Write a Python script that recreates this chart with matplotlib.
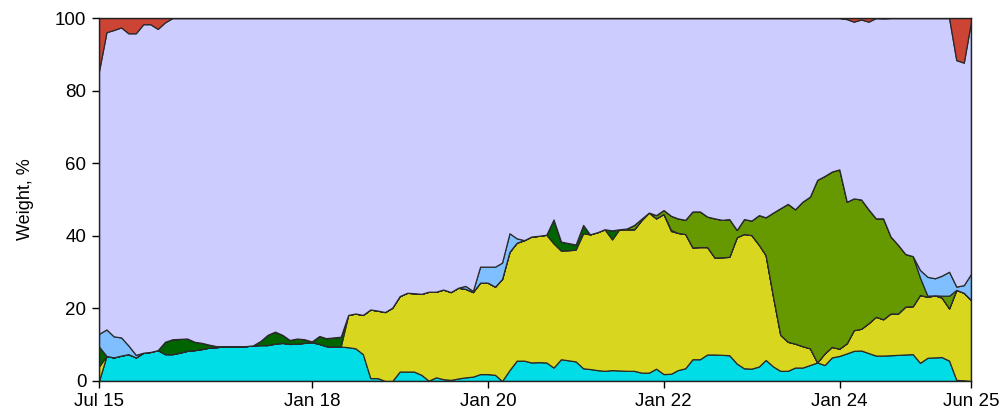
import numpy as np
import pandas as pd
import matplotlib
matplotlib.use("Agg")
import matplotlib.pyplot as plt

plt.rcParams['font.family'] = ['Liberation Sans', 'DejaVu Sans']

# month-end observations, Jul 2015 .. Jun 2025
dates = pd.date_range('2015-07-31', periods=120, freq='ME')

# portfolio weights, %, bottom to top of the stack
cyan = [0, 6.9, 6.5, 7.0, 7.4, 6.5, 7.8, 8.0, 8.5, 7.4,
        7.4, 7.8, 8.3, 8.5, 8.8, 9.2, 9.3, 9.6, 9.6, 9.6,
        9.6, 9.8, 9.9, 9.9, 10.3, 10.5, 10.2, 10.3, 10.5, 10.7,
        10.2, 9.6, 9.5, 9.5, 9.3, 9.0, 7.4, 0.8, 0.8, 0,
        0, 2.6, 2.6, 2.6, 1.7, 0.1, 1.0, 0.5, 0.3, 0.7,
        1.0, 1.2, 1.9, 1.9, 1.7, 0, 3.0, 5.6, 5.6, 5.1,
        5.2, 5.1, 3.7, 6.0, 5.7, 5.4, 3.5, 3.3, 3.0, 2.8,
        3.0, 2.9, 2.8, 2.8, 2.3, 2.3, 3.4, 1.9, 2.0, 3.0,
        3.5, 6.0, 6.0, 7.3, 7.3, 7.2, 7.1, 4.8, 3.5, 3.4,
        4.0, 5.8, 4.0, 2.8, 2.8, 3.7, 3.7, 4.4, 5.1, 4.4,
        6.5, 6.9, 7.6, 8.3, 8.4, 7.7, 7.0, 7.0, 7.1, 7.2,
        7.3, 7.4, 5.0, 6.4, 6.5, 6.6, 5.6, 0.3, 0.2, 0]

yellow = [4.0, 0, 0, 0, 0, 0, 0, 0, 0, 0,
          0, 0, 0, 0, 0, 0, 0, 0, 0, 0,
          0, 0, 0, 0, 0, 0, 0, 0, 0, 0,
          0, 0, 0, 0, 8.9, 9.6, 10.8, 18.9, 18.6, 19.0,
          20.2, 20.8, 21.7, 21.6, 22.3, 24.5, 23.6, 24.7, 24.2, 25.0,
          24.4, 23.3, 25.2, 25.2, 24.3, 28.1, 32.6, 32.5, 33.2, 34.7,
          34.8, 35.2, 34.2, 29.9, 30.3, 30.8, 37.2, 37.1, 38.0, 39.0,
          36.0, 38.9, 39.0, 39.0, 42.0, 44.1, 41.4, 44.1, 39.3, 37.8,
          37.0, 30.8, 30.9, 29.6, 26.7, 26.9, 27.1, 34.8, 37.0, 36.8,
          33.5, 28.9, 19.2, 9.9, 8.0, 6.6, 5.9, 4.6, 0, 3.2,
          2.9, 2.0, 2.8, 5.7, 6.0, 8.2, 10.7, 10.0, 11.5, 11.4,
          13.2, 13.2, 18.7, 16.8, 17.1, 16.4, 14.4, 24.8, 24.1, 22.3]

dark_green = [5.5, 0, 0, 0, 0, 0, 0, 0, 0, 3.4,
              4.1, 3.8, 3.4, 2.3, 1.7, 0.8, 0.3, 0, 0, 0,
              0, 0, 1.1, 2.8, 3.3, 2.2, 1.1, 1.4, 1.0, 0.2,
              2.2, 2.2, 2.5, 2.7, 0, 0, 0, 0, 0, 0,
              0, 0, 0, 0, 0, 0, 0, 0, 0, 0,
              0, 0, 0, 0, 0, 0, 0, 0, 0, 0,
              0, 0, 6.6, 2.5, 2.0, 1.4, 2.3, 0, 0, 0,
              2.5, 0, 0, 0, 0, 0, 0, 0, 0.3, 0,
              0, 0, 0, 0, 0, 0, 0, 0, 0, 0,
              0, 0, 0, 0, 0, 0, 0, 0, 0, 0,
              0, 0, 0, 0, 0, 0, 0, 0, 0, 0,
              0, 0, 0, 0, 0, 0, 0, 0, 0, 0]

olive = [0, 0, 0, 0, 0, 0, 0, 0, 0, 0,
         0, 0, 0, 0, 0, 0, 0, 0, 0, 0,
         0, 0, 0, 0, 0, 0, 0, 0, 0, 0,
         0, 0, 0, 0, 0, 0, 0, 0, 0, 0,
         0, 0, 0, 0, 0, 0, 0, 0, 0, 0,
         0, 0, 0, 0, 0, 0, 0, 0, 0, 0,
         0, 0, 0, 0, 0, 0, 0, 0, 0, 0,
         0, 0, 0.2, 1.2, 0.4, 0, 0.9, 1.1, 3.9, 4.0,
         3.9, 9.9, 9.8, 8.4, 10.8, 10.3, 10.4, 2.0, 4.1, 4.0,
         8.2, 10.4, 23.2, 34.9, 38.0, 37.0, 39.8, 41.8, 50.3, 48.9,
         48.3, 49.4, 39.0, 36.3, 35.6, 31.4, 27.1, 27.8, 21.2, 18.9,
         14.5, 13.8, 4.8, 0.3, 0, 0.5, 3.5, 0, 0, 0]

light_blue = [3.5, 7.3, 5.8, 5.0, 2.4, 0.7, 0, 0, 0, 0,
              0, 0, 0, 0, 0, 0, 0, 0, 0, 0,
              0, 0, 0, 0, 0, 0, 0, 0, 0, 0,
              0, 0, 0, 0, 0, 0, 0, 0, 0, 0,
              0, 0, 0, 0, 0, 0, 0, 0, 0, 0,
              0.8, 0.3, 4.4, 4.4, 5.5, 4.5, 5.1, 1.2, 0, 0,
              0, 0, 0, 0, 0, 0, 0, 0, 0, 0,
              0, 0, 0, 0, 0, 0, 0, 0, 0, 0,
              0, 0, 0, 0, 0, 0, 0, 0, 0, 0,
              0, 0, 0, 0, 0, 0, 0, 0, 0, 0,
              0, 0, 0, 0, 0, 0, 0, 0, 0, 0,
              0, 0, 2.1, 5.2, 4.7, 5.5, 6.6, 0.9, 2.1, 7.2]

lavender = [72.4, 81.9, 84.4, 85.4, 86.0, 88.6, 90.5, 90.3, 88.5, 88.0,
            88.5, 88.4, 88.3, 89.2, 89.5, 90.0, 90.4, 90.4, 90.4, 90.4,
            90.4, 90.2, 89.0, 87.3, 86.4, 87.3, 88.7, 88.3, 88.5, 89.1,
            87.6, 88.2, 88.0, 87.8, 81.8, 81.4, 81.8, 80.3, 80.6, 81.0,
            79.8, 76.6, 75.7, 75.8, 76.0, 75.4, 75.4, 74.8, 75.5, 74.3,
            73.8, 75.2, 68.5, 68.5, 68.5, 67.4, 59.3, 60.7, 61.2, 60.2,
            60.0, 59.7, 55.5, 61.6, 62.0, 62.4, 57.0, 59.6, 59.0, 58.2,
            58.5, 58.2, 58.0, 57.0, 55.3, 53.6, 54.3, 52.9, 54.5, 55.2,
            55.6, 53.3, 53.3, 54.7, 55.2, 55.6, 55.4, 58.4, 55.4, 55.8,
            54.3, 54.9, 53.6, 52.4, 51.2, 52.7, 50.6, 49.2, 44.6, 43.5,
            42.3, 41.7, 50.3, 48.7, 49.6, 51.7, 55.2, 55.1, 60.2, 62.5,
            65.0, 65.6, 69.4, 71.3, 71.7, 71.0, 69.9, 62.4, 61.3, 69.5]

red = [14.6, 3.9, 3.3, 2.6, 4.2, 4.2, 1.7, 1.7, 3.0, 1.2,
       0, 0, 0, 0, 0, 0, 0, 0, 0, 0,
       0, 0, 0, 0, 0, 0, 0, 0, 0, 0,
       0, 0, 0, 0, 0, 0, 0, 0, 0, 0,
       0, 0, 0, 0, 0, 0, 0, 0, 0, 0,
       0, 0, 0, 0, 0, 0, 0, 0, 0, 0,
       0, 0, 0, 0, 0, 0, 0, 0, 0, 0,
       0, 0, 0, 0, 0, 0, 0, 0, 0, 0,
       0, 0, 0, 0, 0, 0, 0, 0, 0, 0,
       0, 0, 0, 0, 0, 0, 0, 0, 0, 0,
       0, 0, 0.3, 1.0, 0.4, 1.0, 0, 0.1, 0, 0,
       0, 0, 0, 0, 0, 0, 0, 11.6, 12.3, 1.0]

colors = ['#00dde6', '#d9d620', '#006400', '#669900', '#80bfff', '#ccccff', '#cc4433']

tick_dates = [dates[0], pd.Timestamp('2018-01-01'), pd.Timestamp('2020-01-01'),
              pd.Timestamp('2022-01-01'), pd.Timestamp('2024-01-01'), dates[-1]]
tick_labels = ['Jul 15', 'Jan 18', 'Jan 20', 'Jan 22', 'Jan 24', 'Jun 25']

fig = plt.figure(figsize=(10.03, 4.19), dpi=100)
ax = fig.add_axes([0.0987, 0.0907, 0.8694, 0.8663])

ax.stackplot(dates, cyan, yellow, dark_green, olive, light_blue, lavender, red,
             colors=colors, edgecolor='#2a2a2a', linewidth=0.9)

ax.set_xlim(dates[0], dates[-1])
ax.set_ylim(0, 100)
ax.set_yticks([0, 20, 40, 60, 80, 100])
ax.set_xticks(tick_dates)
ax.set_xticklabels(tick_labels)
ax.tick_params(labelsize=13.5, length=5, width=1, direction='out', pad=4)
ax.set_ylabel('Weight, %', fontsize=13, labelpad=15)
for s in ax.spines.values():
    s.set_linewidth(1)
    s.set_color('#222222')

fig.savefig('out.png', dpi=100)
